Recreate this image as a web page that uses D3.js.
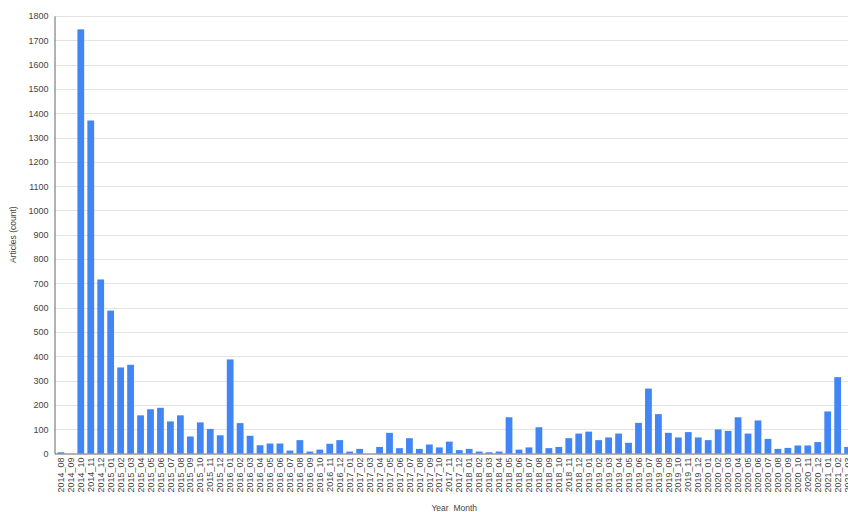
<!DOCTYPE html>
<html lang="en">
<head>
  <meta charset="UTF-8" />
  <title>Articles per month</title>
  <script src="https://d3js.org/d3.v7.min.js"></script>
  <style>
    body {
      margin: 0;
      background: #fff;
      font-family: "Liberation Sans", Arial, sans-serif;
      overflow: hidden;
    }
    .grid line { stroke: #e3e3e3; }
    .tick text { fill: #444; }
  </style>
</head>
<body>
<script>
// one bar per month, 2014_08 .. 2021_03
const months = [
  "2014_08", "2014_09", "2014_10", "2014_11", "2014_12",
  "2015_01", "2015_02", "2015_03", "2015_04", "2015_05", "2015_06",
  "2015_07", "2015_08", "2015_09", "2015_10", "2015_11", "2015_12",
  "2016_01", "2016_02", "2016_03", "2016_04", "2016_05", "2016_06",
  "2016_07", "2016_08", "2016_09", "2016_10", "2016_11", "2016_12",
  "2017_01", "2017_02", "2017_03", "2017_04", "2017_05", "2017_06",
  "2017_07", "2017_08", "2017_09", "2017_10", "2017_11", "2017_12",
  "2018_01", "2018_02", "2018_03", "2018_04", "2018_05", "2018_06",
  "2018_07", "2018_08", "2018_09", "2018_10", "2018_11", "2018_12",
  "2019_01", "2019_02", "2019_03", "2019_04", "2019_05", "2019_06",
  "2019_07", "2019_08", "2019_09", "2019_10", "2019_11", "2019_12",
  "2020_01", "2020_02", "2020_03", "2020_04", "2020_05", "2020_06",
  "2020_07", "2020_08", "2020_09", "2020_10", "2020_11", "2020_12",
  "2021_01", "2021_02", "2021_03"
];

const articles = [
  5, 0, 1745, 1370, 716,
  588, 354, 365, 157, 182, 188, 132, 157, 70, 128, 101, 75,
  387, 125, 73, 34, 41, 41, 12, 55, 8, 16, 40, 55,
  8, 19, 0, 27, 85, 22, 63, 19, 37, 25, 49, 14,
  19, 8, 5, 8, 149, 16, 25, 108, 22, 27, 63, 82,
  90, 55, 66, 82, 44, 126, 267, 162, 85, 66, 88, 66,
  55, 99, 93, 149, 82, 136, 60, 19, 23, 33, 33, 47,
  173, 314, 27
];

const yTicks = d3.range(0, 1801, 100);

const width = 848, height = 512;
// plot runs a little past the right edge, as in the original capture
const plotLeft = 54.5, plotRight = 854, plotTop = 16, plotBottom = 453.5;

const svg = d3.select("body").append("svg")
  .attr("width", width)
  .attr("height", height);

const x = d3.scaleBand()
  .domain(months)
  .range([plotLeft, plotRight])
  .paddingInner(0.32)
  .paddingOuter(0.3);

const y = d3.scaleLinear()
  .domain([0, 1800])
  .range([plotBottom, plotTop]);

// gridlines
svg.append("g")
  .attr("class", "grid")
  .selectAll("line")
  .data(yTicks.slice(1))
  .join("line")
  .attr("x1", plotLeft)
  .attr("x2", plotRight)
  .attr("y1", d => Math.round(y(d)) + 0.5)
  .attr("y2", d => Math.round(y(d)) + 0.5);

// bars
svg.append("g")
  .selectAll("rect")
  .data(articles)
  .join("rect")
  .attr("x", (d, i) => x(months[i]))
  .attr("width", x.bandwidth())
  .attr("y", d => y(d))
  .attr("height", d => plotBottom - y(d))
  .attr("fill", "#4285f4");

// y axis
const yAxis = svg.append("g")
  .attr("transform", `translate(${plotLeft},0)`)
  .call(d3.axisLeft(y).tickValues(yTicks).tickFormat(d3.format("d")).tickSize(0).tickPadding(6));
yAxis.select(".domain").attr("stroke", "#666");
yAxis.selectAll(".tick text")
  .style("font-size", "9px")
  .style("font-family", "'Liberation Sans', Arial, sans-serif");

// x axis
const xAxis = svg.append("g")
  .attr("transform", `translate(0,${plotBottom})`)
  .call(d3.axisBottom(x).tickSize(0).tickPadding(0));
xAxis.select(".domain").attr("stroke", "#666");
xAxis.selectAll(".tick text")
  .style("font-size", "9px")
  .style("font-family", "'Liberation Sans', Arial, sans-serif")
  .attr("text-anchor", "end")
  .attr("dy", "0.35em")
  .attr("transform", "translate(0,4) rotate(-90)")
  .attr("x", 0)
  .attr("y", 0);

// axis titles
svg.append("text")
  .attr("transform", `translate(16,${(plotTop + plotBottom) / 2}) rotate(-90)`)
  .attr("text-anchor", "middle")
  .attr("fill", "#444")
  .style("font-size", "8.5px")
  .text("Articles (count)");

svg.append("text")
  .attr("x", (plotLeft + plotRight) / 2)
  .attr("y", 511)
  .attr("text-anchor", "middle")
  .attr("fill", "#444")
  .style("font-size", "8.5px")
  .text("Year_Month");
</script>
</body>
</html>
